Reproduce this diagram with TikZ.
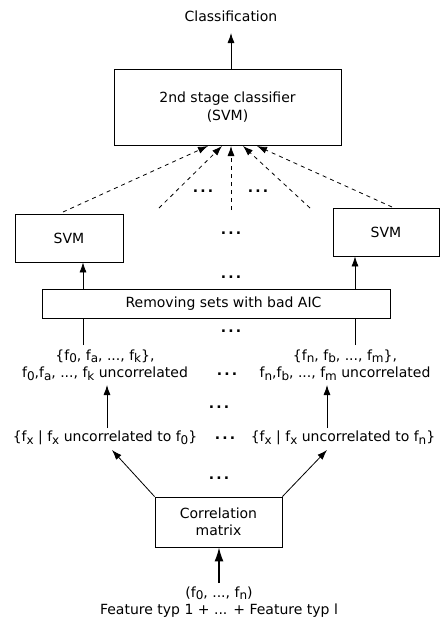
\documentclass[tikz,border=0pt]{standalone}
\usepackage{fontspec}
\setmainfont{DejaVu Sans}
\usetikzlibrary{arrows.meta}
\newcommand\sbs[1]{\raisebox{-0.32ex}{\fontsize{12}{12}\selectfont #1}}
\newcommand\mydots{\textbf{.\kern2.2pt.\kern2.2pt.}}
\begin{document}
\begin{tikzpicture}[x=1pt,y=-1pt,
  every node/.style={font=\fontsize{14}{17.5}\selectfont, inner sep=0pt},
  boxnode/.style={draw, line width=0.8pt, align=center},
  txt/.style={align=center},
  arr/.style={line width=0.8pt, -{Latex[length=10pt,width=7pt]}},
  plain/.style={line width=0.8pt},
  darr/.style={line width=0.8pt, dash pattern=on 4pt off 4pt, -{Latex[length=10pt,width=7pt]}},
  bigarr/.style={line width=1.5pt, -{Latex[length=14pt,width=9pt]}}]
\useasboundingbox (0,0) rectangle (440,619);
% nodes
\node[txt] (cls) at (231,16) {Classification};
\node[boxnode, minimum width=227pt, minimum height=76pt] (stage2) at (227.5,107) {2nd stage classifier\\(SVM)};
\node[boxnode, minimum width=108pt, minimum height=48pt] (svmL) at (69,238) {SVM};
\node[boxnode, minimum width=106pt, minimum height=48pt] (svmR) at (386,232) {SVM};
\node[boxnode, minimum width=348pt, minimum height=29pt] (rem) at (216,303.5) {\hspace{15pt}Removing sets with bad AIC};
\node[txt] (labL) at (105,365) {\{f\sbs{0}, f\sbs{a}, ..., f\sbs{k}\},\\f\sbs{0},f\sbs{a}, ..., f\sbs{k} uncorrelated};
\node[txt] (labR) at (345,365) {\{f\sbs{n}, f\sbs{b}, ..., f\sbs{m}\},\\f\sbs{n},f\sbs{b}, ..., f\sbs{m} uncorrelated};
\node[txt] (setL) at (105,438) {\{f\sbs{x} | f\sbs{x} uncorrelated to f\sbs{0}\}};
\node[txt] (setR) at (343,438) {\{f\sbs{x} | f\sbs{x} uncorrelated to f\sbs{n}\}};
\node[boxnode, minimum width=127pt, minimum height=50pt] (corr) at (218.5,522) {Correlation\\matrix};
\node[txt] (inp) at (219,602) {(f\sbs{0}, ..., f\sbs{n})\\Feature typ 1 + ... + Feature typ l};
% dots
\node (d1) at (203,191) {\mydots};
\node (d2) at (258,191) {\mydots};
\node (d3) at (231,233) {\mydots};
\node (d4) at (231,277) {\mydots};
\node (d5) at (231,331) {\mydots};
\node (d6) at (227,374) {\mydots};
\node (d7) at (219,407) {\mydots};
\node (d8) at (225,438) {\mydots};
\node (d9) at (219,478) {\mydots};
% coordinates
\coordinate (c0) at (231,33);
\coordinate (s1) at (63,212);
\coordinate (s2) at (159,208);
\coordinate (s3) at (231,210);
\coordinate (s4) at (310,208);
\coordinate (s5) at (392,207);
\coordinate (e1) at (208,146);
\coordinate (e2) at (222,146);
\coordinate (e3) at (231,146);
\coordinate (e4) at (243,146);
\coordinate (e5) at (257,146);
\coordinate (xl) at (83,0);
\coordinate (xr) at (355,0);
\coordinate (tl) at (83,345);
\coordinate (tr) at (355,345);
\coordinate (ul) at (107,385);
\coordinate (ur) at (327,385);
\coordinate (vl) at (107,428);
\coordinate (vr) at (327,428);
\coordinate (wl) at (112,450);
\coordinate (wr) at (327,450);
\coordinate (ci) at (219,583);
% connectors
\draw[arr] (stage2.north -| c0) -- (c0);
\draw[darr] (s1) -- (e1);
\draw[darr] (s2) -- (e2);
\draw[darr] (s3) -- (e3);
\draw[darr] (s4) -- (e4);
\draw[darr] (s5) -- (e5);
\draw[arr] (rem.north -| xl) -- (svmL.south -| xl);
\draw[arr] (rem.north -| xr) -- (svmR.south -| xr);
\draw[plain] (tl) -- (rem.south -| xl);
\draw[plain] (tr) -- (rem.south -| xr);
\draw[arr] (vl) -- (ul);
\draw[arr] (vr) -- (ur);
\draw[arr] (corr.north west) -- (wl);
\draw[arr] (corr.north east) -- (wr);
\draw[bigarr] (ci) -- (corr.south -| ci);
\end{tikzpicture}
\end{document}
